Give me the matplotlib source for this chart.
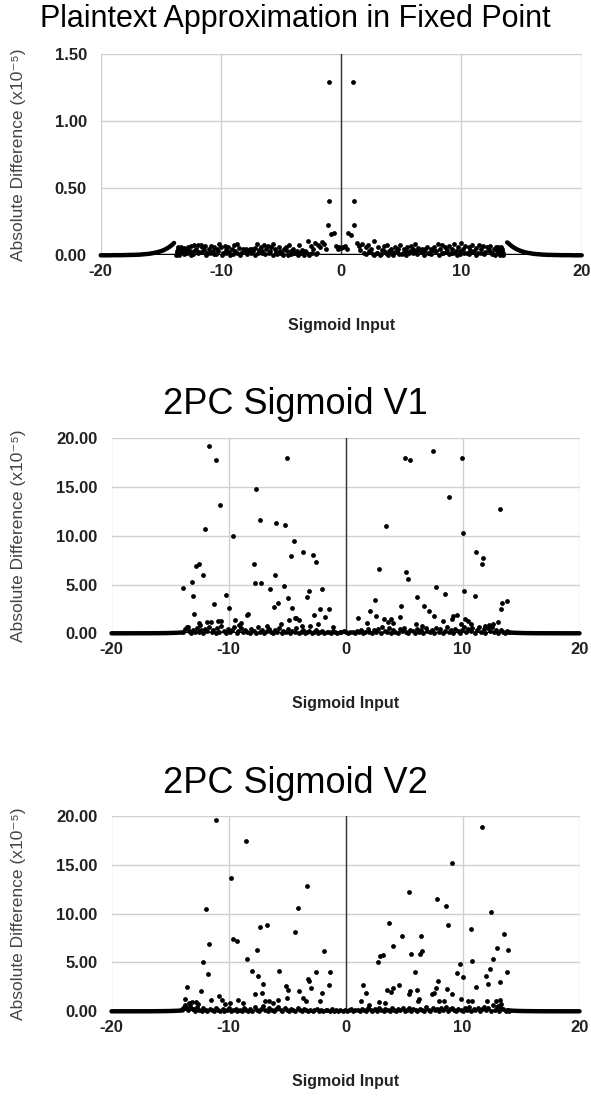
import matplotlib
matplotlib.use("Agg")
import matplotlib.pyplot as plt
from matplotlib.ticker import FormatStrFormatter

plt.rcParams["font.family"] = ["Liberation Sans", "DejaVu Sans"]
plt.rcParams["axes.unicode_minus"] = False

# ---- panel 1: plaintext approximation (units of 1e-5) ----
TAIL_L_X = [-20, -19.75, -19.5, -19.25, -19, -18.75, -18.5, -18.25, -18, -17.75,
            -17.5, -17.25, -17, -16.75, -16.5, -16.25, -16, -15.8, -15.6, -15.4,
            -15.2, -15.0, -14.8, -14.6, -14.4, -14.2, -14.0, -13.9]
TAIL_L_Y = [0.000, 0.000, 0.000, 0.000, 0.001, 0.001, 0.001, 0.001, 0.002, 0.002,
            0.003, 0.003, 0.004, 0.005, 0.007, 0.009, 0.011, 0.014, 0.017, 0.021,
            0.025, 0.031, 0.037, 0.046, 0.056, 0.068, 0.083, 0.092]
TAIL_R_X = [13.8, 13.9, 14.0, 14.2, 14.4, 14.6, 14.8, 15.0, 15.2, 15.4, 15.6, 15.8,
            16, 16.25, 16.5, 16.75, 17, 17.25, 17.5, 17.75, 18, 18.25, 18.5, 18.75,
            19, 19.25, 19.5, 19.75, 20]
TAIL_R_Y = [0.096, 0.090, 0.082, 0.067, 0.055, 0.045, 0.037, 0.030, 0.025, 0.020,
            0.017, 0.014, 0.011, 0.009, 0.007, 0.005, 0.004, 0.003, 0.003, 0.002,
            0.002, 0.001, 0.001, 0.001, 0.001, 0.000, 0.000, 0.000, 0.000]

PLAIN_X = [
    -13.72, -13.68, -13.64, -13.6, -13.56, -13.45, -13.41, -13.37, -13.33, -13.29,
    -13.15, -13.05, -12.95, -12.85, -12.7, -12.6, -12.45, -12.35, -12.2, -12.1,
    -11.95, -11.85, -11.7, -11.55, -11.4, -11.3, -11.15, -11.0, -10.85, -10.7,
    -10.55, -10.45, -10.3, -10.15, -10.0, -9.85, -9.7, -9.55, -9.4, -9.25,
    -9.1, -8.95, -8.8, -8.65, -8.5, -8.35, -8.2, -8.05, -7.9, -7.75,
    -7.6, -7.45, -7.3, -7.15, -7.0, -6.85, -6.7, -6.55, -6.4, -6.25,
    -6.1, -5.95, -5.8, -5.65, -5.5, -5.35, -5.2, -5.05, -4.9, -4.75,
    -4.6, -4.45, -4.3, -4.15, -4.0, -3.85, -3.7, -3.55, -3.4, -3.25,
    -3.1, -2.95, -2.8, -2.65, -2.5, -2.35, -2.2, -2.05, -1.9, -1.75,
    -1.6, -1.45, -1.3, -1.05, -1.05, -1.1, -0.85, -0.6, -0.45, -0.3,
    -0.15, 0.0, 0.15, 0.3, 0.45, 0.6, 0.85, 1.0, 1.05, 1.1,
    1.3, 1.45, 1.6, 1.75, 1.9, 2.05, 2.2, 2.35, 2.5, 2.65,
    2.75, 2.95, 3.1, 3.25, 3.4, 3.55, 3.7, 3.85, 4.0, 4.15,
    4.3, 4.45, 4.6, 4.75, 4.9, 5.05, 5.2, 5.35, 5.5, 5.65,
    5.8, 5.95, 6.1, 6.25, 6.4, 6.55, 6.7, 6.85, 7.0, 7.15,
    7.3, 7.45, 7.6, 7.75, 7.9, 8.05, 8.2, 8.35, 8.5, 8.65,
    8.8, 8.95, 9.1, 9.25, 9.4, 9.55, 9.7, 9.85, 10.0, 10.15,
    10.3, 10.45, 10.6, 10.75, 10.9, 11.05, 11.2, 11.35, 11.5, 11.65,
    11.8, 11.95, 12.1, 12.25, 12.4, 12.55, 12.7, 12.85, 12.95, 13.05,
    13.08, 13.12, 13.16, 13.2, 13.3, 13.34, 13.38, 13.42, 13.46,
]
PLAIN_Y = [
    0.005, 0.02, 0.035, 0.05, 0.065, 0.005, 0.02, 0.035, 0.05, 0.06,
    0.03, 0.055, 0.02, 0.045, 0.065, 0.035, 0.07, 0.01, 0.08, 0.05,
    0.075, 0.025, 0.08, 0.06, 0.04, 0.07, 0.015, 0.05, 0.07, 0.03,
    0.065, 0.01, 0.045, 0.085, 0.06, 0.02, 0.07, 0.04, 0.065, 0.005,
    0.05, 0.075, 0.03, 0.085, 0.055, 0.02, 0.045, 0.04, 0.05, 0.03,
    0.045, 0.05, 0.035, 0.055, 0.085, 0.04, 0.06, 0.02, 0.075, 0.05,
    0.07, 0.03, 0.065, 0.085, 0.045, 0.01, 0.06, 0.035, 0.02, 0.045,
    0.065, 0.005, 0.08, 0.03, 0.05, 0.015, 0.035, 0.08, 0.02, 0.04,
    0.005, 0.025, 0.11, 0.01, 0.07, 0.045, 0.09, 0.02, 0.075, 0.06,
    0.1, 0.085, 0.045, 1.29, 0.405, 0.225, 0.155, 0.165, 0.07, 0.05,
    0.06, 0.055, 0.06, 0.07, 0.045, 0.165, 0.15, 1.29, 0.405, 0.225,
    0.09, 0.07, 0.04, 0.085, 0.02, 0.06, 0.075, 0.03, 0.045, 0.01,
    0.11, 0.02, 0.06, 0.005, 0.04, 0.07, 0.015, 0.075, 0.03, 0.05,
    0.005, 0.065, 0.025, 0.045, 0.08, 0.01, 0.05, 0.035, 0.065, 0.02,
    0.07, 0.045, 0.085, 0.03, 0.055, 0.04, 0.05, 0.035, 0.045, 0.06,
    0.02, 0.05, 0.04, 0.065, 0.03, 0.085, 0.045, 0.075, 0.02, 0.06,
    0.04, 0.07, 0.015, 0.05, 0.085, 0.03, 0.06, 0.01, 0.09, 0.045,
    0.07, 0.02, 0.065, 0.04, 0.08, 0.035, 0.055, 0.015, 0.075, 0.045,
    0.07, 0.025, 0.06, 0.04, 0.07, 0.01, 0.05, 0.065, 0.03, 0.06,
    0.05, 0.035, 0.02, 0.005, 0.065, 0.05, 0.035, 0.02, 0.005,
]
# lower layer of the plaintext band, mostly on or near zero
PLAIN_LOW_X = [
    -13.1, -12.8, -12.5, -12.25, -11.9, -11.6, -11.25, -10.9, -10.6, -10.25,
    -9.9, -9.6, -9.3, -9.0, -8.7, -8.4, -8.1, -7.8, -7.5, -7.2,
    -6.9, -6.6, -6.3, -6.0, -5.7, -5.4, -5.1, -4.8, -4.5, -4.2,
    -3.9, -3.6, -3.3, -3.0, -2.7, -2.4, -2.1,
    2.1, 2.4, 2.7, 3.0, 3.3, 3.6, 3.9, 4.2, 4.5, 4.8,
    5.1, 5.4, 5.7, 6.0, 6.3, 6.6, 6.9, 7.2, 7.5, 7.8,
    8.1, 8.4, 8.7, 9.0, 9.3, 9.6, 9.9, 10.25, 10.6, 10.9,
    11.25, 11.6, 11.9, 12.25, 12.5, 12.8,
]
PLAIN_LOW_Y = [
    0.01, 0.02, 0.005, 0.03, 0.015, 0.025, 0.005, 0.02, 0.01, 0.03,
    0.005, 0.015, 0.025, 0.01, 0.02, 0.005, 0.03, 0.01, 0.02, 0.005,
    0.015, 0.03, 0.01, 0.02, 0.005, 0.025, 0.015, 0.005, 0.03, 0.01,
    0.02, 0.005, 0.015, 0.03, 0.005, 0.02, 0.01,
    0.01, 0.025, 0.005, 0.02, 0.01, 0.03, 0.005, 0.015, 0.025, 0.01,
    0.02, 0.005, 0.03, 0.015, 0.01, 0.025, 0.005, 0.02, 0.01, 0.03,
    0.005, 0.015, 0.025, 0.01, 0.02, 0.005, 0.03, 0.015, 0.01, 0.025,
    0.005, 0.02, 0.01, 0.03, 0.015, 0.005,
]

# ---- panel 2: 2PC sigmoid V1 ----
V1_X = [
    -13.85, -13.14, -13.02, -12.94, -12.82, -12.54, -12.22, -12.02, -11.65, -11.11,
    -10.71, -11.22, -9.62, -10.22, -9.99, -11.8, -11.5, -10.9, -10.6, -12.5,
    -12.4, -13.45, -9.42, -8.42, -8.35, -7.8, -7.71, -7.65, -7.28, -7.25,
    -6.48, -6.0, -5.91, -6.11, -5.74, -5.28, -5.19, -5.0, -4.65, -4.4,
    -4.91, -4.6, -4.8, -4.3, -3.6, -2.8, -2.51, -3.31, -3.08, -2.0,
    -2.68, -4.2, -4.0, -2.17, -1.4, -1.77, -2.37, -3.71, -1.11, -8.9,
    -9.1, -6.7, -5.5, -3.0,
    1.03, 1.83, 2.12, 2.55, 2.63, 2.83, 3.26, 3.43, 3.6, 3.85,
    4.1, 4.63, 4.75, 5.06, 5.14, 5.35, 5.55, 6.03, 6.14, 6.74,
    7.14, 7.46, 7.54, 7.74, 8.34, 8.54, 8.86, 9.1, 9.2, 9.5,
    9.83, 9.94, 10.06, 10.15, 10.2, 10.5, 10.7, 11.06, 11.17, 11.66,
    11.77, 13.06, 13.17, 13.26, 13.4, 13.77, 11.9, 12.3, 12.6, 6.5,
]
V1_Y = [
    4.69, 5.23, 3.87, 1.97, 6.87, 7.14, 5.95, 10.74, 19.25, 17.75,
    13.12, 3.02, 10.0, 3.94, 2.55, 1.15, 1.2, 1.3, 1.25, 1.1,
    0.86, 0.67, 1.36, 1.87, 2.0, 7.14, 5.2, 14.76, 11.66, 5.17,
    4.59, 5.95, 11.36, 2.72, 3.12, 4.9, 11.15, 17.96, 7.92, 9.42,
    3.57, 2.55, 1.4, 1.6, 8.3, 8.06, 7.28, 3.7, 4.31, 4.52,
    1.83, 1.6, 1.4, 2.48, 2.48, 1.7, 0.98, 0.78, 0.6, 1.1,
    0.9, 0.8, 1.0, 0.7,
    1.56, 1.02, 2.24, 3.43, 1.75, 6.63, 1.46, 10.98, 1.2, 1.5,
    1.1, 1.63, 2.78, 18.02, 6.29, 5.57, 17.79, 0.95, 3.7, 2.78,
    2.28, 18.74, 1.77, 4.76, 1.26, 3.98, 13.98, 1.5, 1.8, 1.9,
    0.98, 17.96, 10.27, 4.31, 1.5, 1.3, 1.0, 3.84, 8.3, 7.11,
    7.75, 1.15, 12.72, 2.51, 3.06, 3.29, 0.8, 0.9, 1.0, 0.8,
]
V1_LOW_X = [
    -13.9, -13.7, -13.55, -13.35, -13.2, -13.0, -12.85, -12.7, -12.55, -12.35,
    -12.15, -12.0, -11.85, -11.65, -11.45, -11.3, -11.1, -10.95, -10.8, -10.6,
    -10.4, -10.25, -10.05, -9.85, -9.7, -9.5, -9.3, -9.15, -8.95, -8.75,
    -8.6, -8.4, -8.2, -8.05, -7.85, -7.65, -7.5, -7.3, -7.1, -6.95,
    -6.75, -6.55, -6.4, -6.2, -6.0, -5.85, -5.65, -5.45, -5.3, -5.1,
    -4.9, -4.75, -4.55, -4.35, -4.2, -4.0, -3.8, -3.65, -3.45, -3.25,
    -3.1, -2.9, -2.7, -2.55, -2.35, -2.15, -2.0, -1.8, -1.6, -1.45,
    -1.25, -1.05, -0.9, -0.7, -0.5, -0.35, -0.15, 0.05, 0.25, 0.4,
    0.6, 0.8, 0.95, 1.15, 1.35, 1.5, 1.7, 1.9, 2.05, 2.25,
    2.45, 2.6, 2.8, 3.0, 3.15, 3.35, 3.55, 3.7, 3.9, 4.1,
    4.25, 4.45, 4.65, 4.8, 5.0, 5.2, 5.35, 5.55, 5.75, 5.9,
    6.1, 6.3, 6.45, 6.65, 6.85, 7.0, 7.2, 7.4, 7.55, 7.75,
    7.95, 8.1, 8.3, 8.5, 8.65, 8.85, 9.05, 9.2, 9.4, 9.6,
    9.75, 9.95, 10.15, 10.3, 10.5, 10.7, 10.85, 11.05, 11.25, 11.4,
    11.6, 11.8, 11.95, 12.15, 12.35, 12.5, 12.7, 12.9, 13.05, 13.25,
    13.45, 13.6, 13.8, 13.95,
]
V1_LOW_Y = [
    0.1, 0.45, 0.6, 0.2, 0.05, 0.35, 0.1, 0.55, 0.15, 0.3,
    0.05, 0.4, 0.2, 0.6, 0.1, 0.35, 0.05, 0.5, 0.15, 0.7,
    0.25, 0.05, 0.45, 0.1, 0.3, 0.6, 0.05, 0.2, 0.5, 0.1,
    0.35, 0.15, 0.05, 0.4, 0.25, 0.05, 0.6, 0.1, 0.3, 0.05,
    0.2, 0.45, 0.1, 0.05, 0.35, 0.15, 0.55, 0.05, 0.25, 0.1,
    0.4, 0.05, 0.2, 0.1, 0.5, 0.05, 0.15, 0.3, 0.05, 0.1,
    0.25, 0.05, 0.15, 0.35, 0.05, 0.1, 0.2, 0.05, 0.15, 0.1,
    0.05, 0.2, 0.1, 0.05, 0.15, 0.1, 0.2, 0.1, 0.05, 0.15,
    0.1, 0.05, 0.2, 0.1, 0.3, 0.05, 0.15, 0.4, 0.1, 0.05,
    0.3, 0.15, 0.45, 0.05, 0.6, 0.2, 0.1, 0.5, 0.05, 0.3,
    0.15, 0.05, 0.4, 0.2, 0.55, 0.1, 0.05, 0.35, 0.2, 0.05,
    0.45, 0.1, 0.3, 0.05, 0.5, 0.2, 0.1, 0.35, 0.05, 0.55,
    0.15, 0.4, 0.05, 0.25, 0.6, 0.1, 0.3, 0.05, 0.45, 0.2,
    0.05, 0.35, 0.6, 0.1, 0.4, 0.2, 0.55, 0.05, 0.3, 0.6,
    0.15, 0.45, 0.05, 0.5, 0.2, 0.6, 0.1, 0.35, 0.05, 0.3,
    0.15, 0.05, 0.2, 0.1,
]

# ---- panel 3: 2PC sigmoid V2 ----
V2_X = [
    -13.54, -13.71, -13.8, -13.4, -13.1, -12.8, -12.6, -13.3, -13.0, -12.34,
    -12.22, -11.91, -11.74, -11.65, -11.53, -11.11, -10.82, -10.56, -9.82, -9.6,
    -9.31, -9.22, -8.51, -8.42, -8.0, -7.59, -7.48, -7.31, -7.03, -6.74,
    -7.71, -7.11, -6.9, -6.5, -5.71, -5.77, -5.08, -4.94, -5.0, -4.28,
    -4.08, -3.99, -3.31, -1.8, -2.51, -1.29, -3.17, -3.12, -2.97, -1.37,
    -1.97, -3.6, -3.4, -2.2, -8.8, -9.9, -10.3, -6.2,
    1.52, 1.75, 2.74, 2.91, 3.2, 3.72, 4.03, 3.57, 3.85, 4.09,
    4.57, 4.86, 5.43, 5.63, 5.95, 5.4, 5.55, 6.12, 6.34, 6.55,
    6.46, 6.2, 6.3, 7.86, 8.57, 8.77, 9.06, 7.91, 7.7, 7.4,
    7.55, 8.66, 9.14, 9.55, 9.75, 10.06, 9.89, 10.69, 10.77, 11.17,
    11.66, 12.0, 12.31, 12.17, 12.46, 12.57, 12.97, 13.17, 13.57, 13.77,
    13.88, 12.9, 13.2, 13.3, 13.05, 12.1, 10.5, 10.85, 8.0, 8.4,
    1.3, 2.0, 2.85, 3.34,
]
V2_Y = [
    2.46, 1.26, 0.47, 0.8, 1.0, 0.95, 0.75, 0.3, 0.25, 2.1,
    5.05, 10.44, 3.82, 6.86, 1.12, 19.61, 1.57, 1.15, 13.68, 7.4,
    7.17, 1.15, 17.46, 5.35, 4.16, 6.27, 3.61, 8.63, 2.8, 8.83,
    1.8, 1.9, 1.1, 1.1, 4.16, 1.2, 2.59, 2.15, 1.36, 8.09,
    10.6, 2.1, 12.82, 6.17, 3.99, 3.99, 3.3, 3.1, 2.35, 2.72,
    1.84, 1.4, 1.1, 1.1, 0.9, 0.8, 0.7, 0.9,
    2.69, 1.84, 5.08, 5.7, 5.8, 9.04, 6.68, 2.2, 2.0, 2.4,
    2.65, 7.74, 12.21, 5.87, 3.99, 1.8, 2.1, 2.15, 5.9, 6.2,
    7.71, 1.1, 1.3, 11.46, 10.78, 8.8, 15.15, 3.1, 2.4, 1.75,
    1.9, 2.3, 1.75, 3.92, 4.84, 3.48, 1.3, 8.46, 5.18, 2.46,
    18.9, 3.6, 4.34, 2.77, 10.13, 5.32, 6.48, 3.03, 7.91, 4.02,
    6.24, 1.1, 1.2, 0.7, 0.5, 1.1, 1.1, 1.1, 1.1, 1.1,
    1.1, 0.6, 1.0, 0.88,
]
V2_LOW_X = [
    -13.95, -13.75, -13.6, -13.45, -13.25, -13.05, -12.9, -12.7, -12.5, -12.3,
    -12.15, -11.95, -11.8, -11.6, -11.4, -11.25, -11.05, -10.9, -10.7, -10.5,
    -10.35, -10.15, -9.95, -9.8, -9.6, -9.4, -9.25, -9.05, -8.85, -8.7,
    -8.5, -8.3, -8.15, -7.95, -7.75, -7.6, -7.4, -7.2, -7.05, -6.85,
    -6.65, -6.5, -6.3, -6.1, -5.95, -5.75, -5.55, -5.4, -5.2, -5.0,
    -4.85, -4.65, -4.45, -4.3, -4.1, -3.9, -3.75, -3.55, -3.35, -3.2,
    -3.0, -2.8, -2.65, -2.45, -2.25, -2.1, -1.9, -1.7, -1.55, -1.35,
    -1.15, -1.0, -0.8, -0.6, -0.45, -0.25, -0.05, 0.1, 0.3, 0.5,
    0.65, 0.85, 1.05, 1.2, 1.4, 1.6, 1.75, 1.95, 2.15, 2.3,
    2.5, 2.7, 2.85, 3.05, 3.25, 3.4, 3.6, 3.8, 3.95, 4.15,
    4.35, 4.5, 4.7, 4.9, 5.05, 5.25, 5.45, 5.6, 5.8, 6.0,
    6.15, 6.35, 6.55, 6.7, 6.9, 7.1, 7.25, 7.45, 7.65, 7.8,
    8.0, 8.2, 8.35, 8.55, 8.75, 8.9, 9.1, 9.3, 9.45, 9.65,
    9.85, 10.0, 10.2, 10.4, 10.55, 10.75, 10.95, 11.1, 11.3, 11.5,
    11.65, 11.85, 12.05, 12.2, 12.4, 12.6, 12.75, 12.95, 13.15, 13.3,
    13.5, 13.7, 13.85, 14.0,
]
V2_LOW_Y = [
    0.2, 0.6, 0.35, 0.1, 0.5, 0.2, 0.05, 0.4, 0.15, 0.05,
    0.3, 0.1, 0.05, 0.25, 0.1, 0.05, 0.3, 0.1, 0.05, 0.2,
    0.05, 0.15, 0.3, 0.05, 0.1, 0.25, 0.05, 0.15, 0.05, 0.3,
    0.1, 0.05, 0.2, 0.05, 0.4, 0.1, 0.05, 0.25, 0.5, 0.1,
    0.05, 0.3, 0.15, 0.05, 0.2, 0.45, 0.1, 0.05, 0.3, 0.15,
    0.05, 0.25, 0.1, 0.05, 0.35, 0.15, 0.05, 0.2, 0.1, 0.05,
    0.15, 0.05, 0.1, 0.2, 0.05, 0.1, 0.05, 0.15, 0.1, 0.05,
    0.2, 0.05, 0.1, 0.05, 0.15, 0.05, 0.1, 0.05, 0.1, 0.2,
    0.05, 0.1, 0.15, 0.05, 0.2, 0.1, 0.05, 0.3, 0.1, 0.05,
    0.2, 0.05, 0.35, 0.1, 0.05, 0.25, 0.1, 0.05, 0.3, 0.15,
    0.05, 0.2, 0.1, 0.35, 0.05, 0.15, 0.3, 0.05, 0.2, 0.1,
    0.05, 0.25, 0.1, 0.05, 0.4, 0.15, 0.05, 0.3, 0.1, 0.2,
    0.05, 0.35, 0.1, 0.45, 0.05, 0.2, 0.3, 0.1, 0.05, 0.25,
    0.1, 0.05, 0.3, 0.15, 0.4, 0.05, 0.2, 0.1, 0.35, 0.05,
    0.2, 0.45, 0.1, 0.3, 0.05, 0.6, 0.15, 0.4, 0.05, 0.3,
    0.2, 0.05, 0.15, 0.05,
]

X_TICKS = [-20, -10, 0, 10, 20]
PANELS = [
    ("Plaintext Approximation in Fixed Point", [0, 0.5, 1.0, 1.5]),
    ("2PC Sigmoid V1", [0, 5, 10, 15, 20]),
    ("2PC Sigmoid V2", [0, 5, 10, 15, 20]),
]

W, H = 591, 1097
# axes boxes in pixels: left, right, top, bottom
BOXES = [(100.7, 581.7, 54, 255.3), (111.5, 579.5, 438.3, 633.3), (111.5, 579.5, 816, 1011.3)]
TITLE_Y = [27, 414, 793]
TITLE_SIZE = [22, 26, 26]

fig = plt.figure(figsize=(W / 100, H / 100), dpi=100)
clouds = [
    [(PLAIN_LOW_X, PLAIN_LOW_Y), (PLAIN_X, PLAIN_Y)],
    [(V1_LOW_X, V1_LOW_Y), (V1_X, V1_Y)],
    [(V2_LOW_X, V2_LOW_Y), (V2_X, V2_Y)],
]
for i, ((title, yticks), (l, r, t, b)) in enumerate(zip(PANELS, BOXES)):
    ax = fig.add_axes([l / W, 1 - b / H, (r - l) / W, (b - t) / H])
    # the outer tails are so densely sampled that their dots merge into a line
    for xs, ys in [(TAIL_L_X, TAIL_L_Y), (TAIL_R_X, TAIL_R_Y)]:
        ax.plot(xs, ys, color="black", linewidth=3.2, solid_capstyle="round",
                zorder=3, clip_on=False)
    for xs, ys in clouds[i]:
        ax.scatter(xs, ys, s=12, color="black", linewidths=0, zorder=3, clip_on=False)
    ax.set_xlim(-20, 20)
    ax.set_ylim(0, yticks[-1])
    ax.set_xticks(X_TICKS)
    ax.set_yticks(yticks)
    ax.yaxis.set_major_formatter(FormatStrFormatter("%.2f"))
    ax.grid(color="#d0d0d0", linewidth=1)
    ax.axvline(0, color="#333333", linewidth=1, zorder=2)
    ax.axhline(0, color="black", linewidth=2.5, zorder=2)
    for spine in ax.spines.values():
        spine.set_visible(False)
    ax.tick_params(length=0, labelsize=12, colors="#222222")
    ax.tick_params(axis="y", pad=10)
    ax.tick_params(axis="x", pad=6)
    for lab in ax.get_xticklabels() + ax.get_yticklabels():
        lab.set_fontweight("bold")
    fig.text(0.5, 1 - TITLE_Y[i] / H, title, ha="center", va="baseline",
             fontsize=TITLE_SIZE[i], color="black")
    fig.text((l + r) / 2 / W, 1 - (b + 70) / H, "Sigmoid Input", ha="center",
             va="center", fontsize=11.5, fontweight="bold", color="#222222")
    fig.text(19 / W, 1 - (t + b) / 2 / H, "Absolute Difference (x10⁻⁵)",
             rotation=90, ha="center", va="center", fontsize=12.5, color="#444444")

fig.savefig("out.png", dpi=100)
